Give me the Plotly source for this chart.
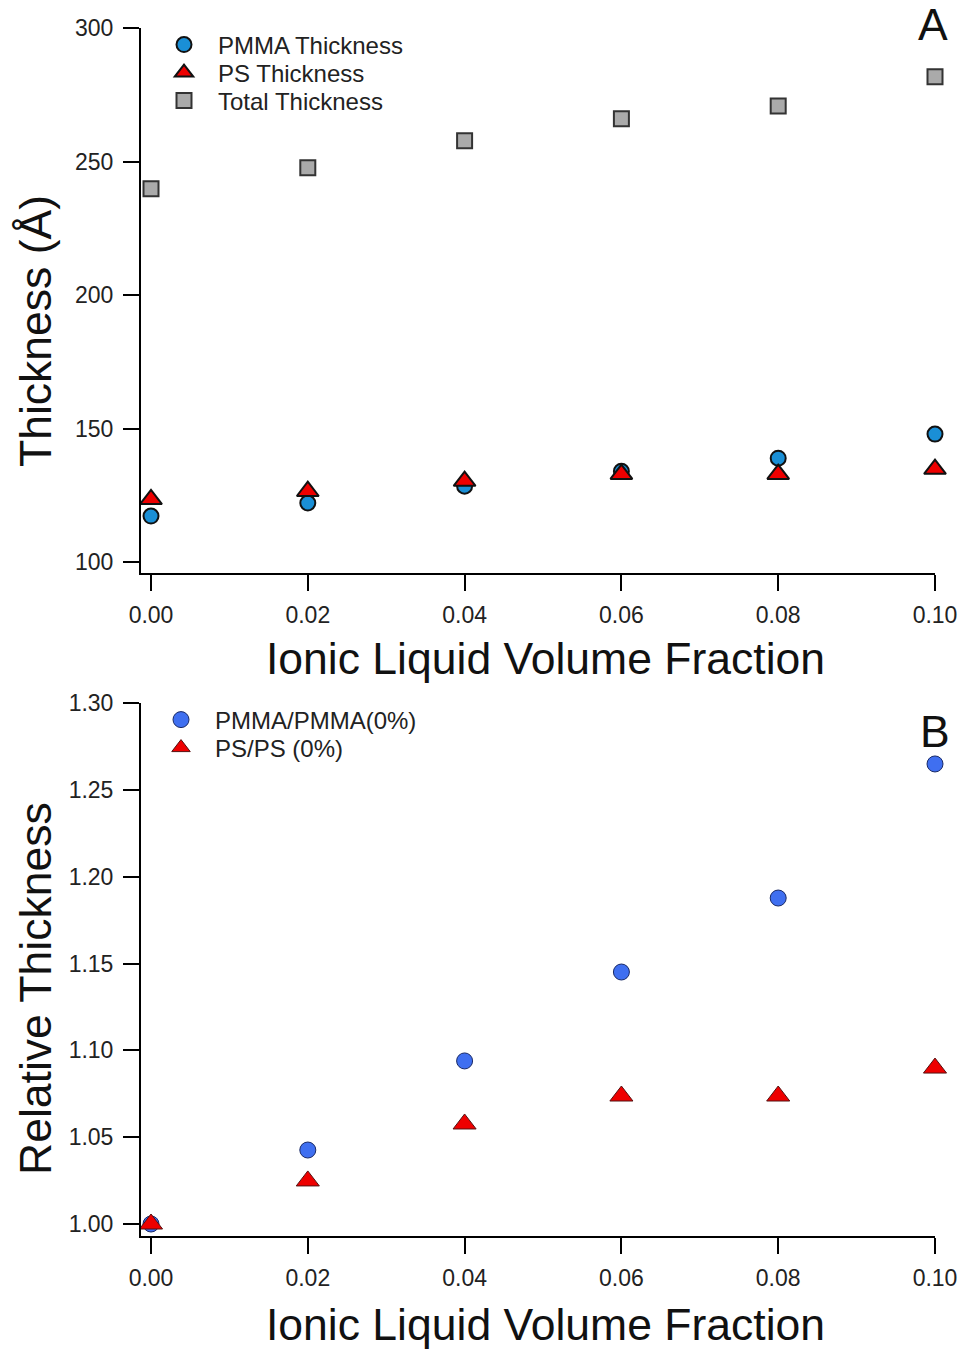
import plotly.graph_objects as go

# ---- data ----
il_fraction = [0.00, 0.02, 0.04, 0.06, 0.08, 0.10]
pmma_thickness = [117.2, 122.1, 128.4, 134.0, 138.9, 147.9]
ps_thickness = [123.5, 126.5, 130.3, 132.9, 132.9, 134.8]
total_thickness = [239.8, 247.7, 257.8, 266.0, 270.8, 281.7]
pmma_relative = [1.000, 1.0426, 1.0939, 1.1451, 1.1877, 1.2649]
ps_relative = [1.000, 1.0248, 1.0576, 1.0737, 1.0737, 1.0898]

x_ticks = [0.00, 0.02, 0.04, 0.06, 0.08, 0.10]
x_ticklabels = ["0.00", "0.02", "0.04", "0.06", "0.08", "0.10"]
ya_ticks = [100, 150, 200, 250, 300]
yb_ticks = [1.00, 1.05, 1.10, 1.15, 1.20, 1.25, 1.30]
yb_ticklabels = ["1.00", "1.05", "1.10", "1.15", "1.20", "1.25", "1.30"]

FONT = "Liberation Sans, Arial, sans-serif"
W, H = 965, 1351
ML, MR, MT, MB = 141, 30, 28, 115
PH = H - MT - MB
PW = W - ML - MR

def py(pix):
    return (H - MB - pix) / PH

def px(pix):
    return (pix - ML) / PW

fig = go.Figure()

fig.add_trace(go.Scatter(x=il_fraction, y=pmma_thickness, mode="markers", name="PMMA Thickness",
                         marker=dict(symbol="circle", size=15, color="#1a8fd6",
                                     line=dict(color="#111111", width=2)),
                         cliponaxis=False, xaxis="x", yaxis="y", legend="legend"))
fig.add_trace(go.Scatter(x=il_fraction, y=ps_thickness, mode="markers", name="PS Thickness",
                         marker=dict(symbol="triangle-up", size=19, color="#ee0000",
                                     line=dict(color="#111111", width=2)),
                         cliponaxis=False, xaxis="x", yaxis="y", legend="legend2"))
fig.add_trace(go.Scatter(x=il_fraction, y=total_thickness, mode="markers", name="Total Thickness",
                         marker=dict(symbol="square", size=15, color="#aaaaaa",
                                     line=dict(color="#333333", width=2)),
                         cliponaxis=False, xaxis="x", yaxis="y", legend="legend3"))

fig.add_trace(go.Scatter(x=il_fraction, y=pmma_relative, mode="markers", name="PMMA/PMMA(0%)",
                         marker=dict(symbol="circle", size=16, color="#3f6ff0",
                                     line=dict(color="#1a2a66", width=1)),
                         cliponaxis=False, xaxis="x2", yaxis="y2", legend="legend4"))
fig.add_trace(go.Scatter(x=il_fraction, y=ps_relative, mode="markers", name="PS/PS (0%)",
                         marker=dict(symbol="triangle-up", size=20, color="#ee0000",
                                     line=dict(color="#551111", width=1)),
                         cliponaxis=False, xaxis="x2", yaxis="y2", legend="legend5"))

xr = [-0.1 * 10 / 784, 0.1]
axis_common = dict(showline=True, linecolor="black", linewidth=2, ticks="outside",
                   ticklen=16, tickwidth=2, tickcolor="black", showgrid=False, zeroline=False,
                   tickfont=dict(family=FONT, size=23, color="#222222"), mirror=False,
                   automargin=False)

top_dom = [py(573), 1.0]
bot_dom = [0.0, py(703)]

leg_font = dict(family=FONT, size=24, color="#222222")

def leg(xpix, ypix):
    return dict(x=px(xpix), y=py(ypix), xanchor="left", yanchor="middle",
                font=leg_font, bgcolor="rgba(0,0,0,0)", itemwidth=58,
                borderwidth=0, tracegroupgap=0)

fig.update_layout(
    width=W, height=H,
    margin=dict(l=ML, r=MR, t=MT, b=MB),
    plot_bgcolor="white", paper_bgcolor="white",
    font=dict(family=FONT, color="#222222"),
    xaxis=dict(domain=[0, 1], range=xr, anchor="y", tickvals=x_ticks, ticktext=x_ticklabels,
               ticklabelstandoff=4, **axis_common),
    yaxis=dict(domain=top_dom, range=[100 - 11 / 2.675, 300], anchor="x", tickvals=ya_ticks,
               ticklabelstandoff=5, **axis_common),
    xaxis2=dict(domain=[0, 1], range=xr, anchor="y2", tickvals=x_ticks, ticktext=x_ticklabels,
                ticklabelstandoff=4, **axis_common),
    yaxis2=dict(domain=bot_dom, range=[1.0 - 12 / 1736.7, 1.30], anchor="x2", tickvals=yb_ticks,
                ticktext=yb_ticklabels, ticklabelstandoff=5, **axis_common),
    legend=leg(150, 45),
    legend2=leg(150, 73),
    legend3=leg(150, 101),
    legend4=leg(147, 720),
    legend5=leg(147, 748),
    showlegend=True,
)

title_font = dict(family=FONT, size=44.5, color="#111111")
# axis titles
fig.add_annotation(text="Ionic Liquid Volume Fraction", x=px(545.5), y=py(658), xref="paper", yref="paper",
                   xanchor="center", yanchor="middle", showarrow=False, font=title_font)
fig.add_annotation(text="Ionic Liquid Volume Fraction", x=px(545.5), y=py(1325), xref="paper", yref="paper",
                   xanchor="center", yanchor="middle", showarrow=False, font=title_font)
fig.add_annotation(text="Thickness (Å)", x=px(35), y=py(331), xref="paper", yref="paper",
                   xanchor="center", yanchor="middle", showarrow=False, textangle=-90, font=title_font)
fig.add_annotation(text="Relative Thickness", x=px(35), y=py(989), xref="paper", yref="paper",
                   xanchor="center", yanchor="middle", showarrow=False, textangle=-90, font=title_font)

# panel letters
fig.add_annotation(text="A", x=px(932.5), y=py(24), xref="paper", yref="paper",
                   xanchor="center", yanchor="middle", showarrow=False, font=title_font)
fig.add_annotation(text="B", x=px(934.5), y=py(731), xref="paper", yref="paper",
                   xanchor="center", yanchor="middle", showarrow=False, font=title_font)

fig.write_html("out.html")
